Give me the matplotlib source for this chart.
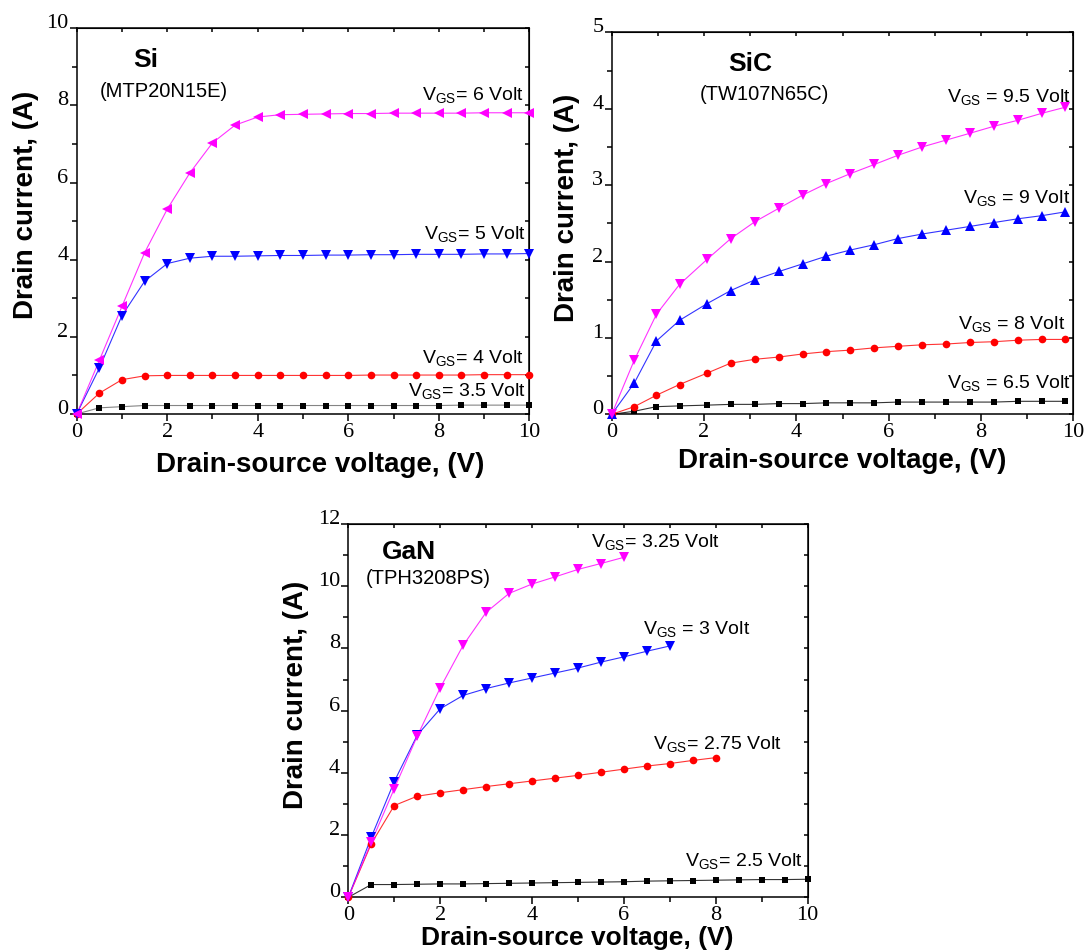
import matplotlib
matplotlib.use("Agg")
import matplotlib.pyplot as plt
from matplotlib.ticker import MultipleLocator

plt.rcParams['font.family'] = ['Liberation Sans', 'DejaVu Sans']

# Si MOSFET (MTP20N15E) output characteristics
si_vds = [0, 0.5, 1.0, 1.5, 2.0, 2.5, 3.0, 3.5, 4.0, 4.5, 5.0,
          5.5, 6.0, 6.5, 7.0, 7.5, 8.0, 8.5, 9.0, 9.5, 10.0]
si_id_6 = [0, 1.39, 2.79, 4.18, 5.31, 6.25, 7.03, 7.49, 7.70, 7.76, 7.77,
           7.78, 7.79, 7.79, 7.80, 7.80, 7.80, 7.80, 7.81, 7.81, 7.81]
si_id_5 = [0, 1.19, 2.55, 3.44, 3.90, 4.04, 4.09, 4.09, 4.10, 4.11, 4.11,
           4.12, 4.12, 4.13, 4.13, 4.14, 4.14, 4.14, 4.15, 4.15, 4.16]
si_id_4 = [0, 0.54, 0.89, 0.99, 1.00, 1.00, 1.00, 1.00, 1.00, 1.00, 1.00,
           1.00, 1.00, 1.01, 1.01, 1.01, 1.01, 1.01, 1.02, 1.02, 1.02]
si_id_35 = [0, 0.16, 0.19, 0.22, 0.22, 0.22, 0.22, 0.22, 0.22, 0.22, 0.22,
            0.22, 0.22, 0.22, 0.22, 0.22, 0.22, 0.23, 0.23, 0.23, 0.23]

# SiC MOSFET (TW107N65C)
sic_vds = [0, 0.49, 0.97, 1.47, 2.07, 2.58, 3.10, 3.63, 4.14, 4.65, 5.17,
           5.69, 6.20, 6.73, 7.25, 7.77, 8.28, 8.81, 9.32, 9.83]
sic_id_95 = [0, 0.71, 1.31, 1.70, 2.03, 2.30, 2.52, 2.70, 2.87, 3.02, 3.15,
             3.27, 3.39, 3.50, 3.59, 3.68, 3.77, 3.85, 3.94, 4.02]
sic_id_9 = [0, 0.41, 0.96, 1.23, 1.45, 1.62, 1.76, 1.87, 1.97, 2.07, 2.15,
            2.22, 2.30, 2.36, 2.41, 2.46, 2.51, 2.56, 2.60, 2.65]
sic_id_8 = [0, 0.10, 0.25, 0.39, 0.54, 0.67, 0.72, 0.75, 0.79, 0.82, 0.84,
            0.87, 0.89, 0.91, 0.92, 0.94, 0.95, 0.97, 0.98, 0.98]
sic_id_65 = [0, 0.04, 0.10, 0.11, 0.12, 0.13, 0.13, 0.14, 0.14, 0.15, 0.15,
             0.15, 0.16, 0.16, 0.16, 0.16, 0.16, 0.17, 0.17, 0.17]

# GaN HEMT (TPH3208PS)
gan_vds_325 = [0, 0.5, 1.0, 1.5, 2.0, 2.5, 3.0, 3.5, 4.0, 4.5, 5.0, 5.5, 6.0]
gan_id_325 = [0, 1.77, 3.49, 5.18, 6.73, 8.10, 9.16, 9.77, 10.07, 10.30,
              10.54, 10.73, 10.93]
gan_vds_3 = [0, 0.5, 1.0, 1.5, 2.0, 2.5, 3.0, 3.5, 4.0, 4.5, 5.0, 5.5,
             6.0, 6.5, 7.0]
gan_id_3 = [0, 1.93, 3.72, 5.21, 6.06, 6.49, 6.71, 6.89, 7.05, 7.21, 7.37,
            7.56, 7.73, 7.91, 8.08]
gan_vds_275 = [0, 0.5, 1.0, 1.5, 2.0, 2.5, 3.0, 3.5, 4.0, 4.5, 5.0, 5.5,
               6.0, 6.5, 7.0, 7.5, 8.0]
gan_id_275 = [0, 1.72, 2.95, 3.25, 3.36, 3.46, 3.56, 3.65, 3.74, 3.83, 3.92,
              4.02, 4.12, 4.22, 4.30, 4.40, 4.49]
gan_vds_25 = [0, 0.5, 1.0, 1.5, 2.0, 2.5, 3.0, 3.5, 4.0, 4.5, 5.0,
              5.5, 6.0, 6.5, 7.0, 7.5, 8.0, 8.5, 9.0, 9.5, 10.0]
gan_id_25 = [0, 0.41, 0.41, 0.42, 0.43, 0.43, 0.44, 0.45, 0.46, 0.47, 0.48,
             0.49, 0.50, 0.52, 0.53, 0.54, 0.55, 0.56, 0.57, 0.57, 0.58]

W, H = 1089, 951
fig = plt.figure(figsize=(W / 100, H / 100), dpi=100)


def px_axes(x0, y0, x1, y1):
    # rectangle given in pixels from the top-left corner
    return fig.add_axes([x0 / W, 1 - y1 / H, (x1 - x0) / W, (y1 - y0) / H])


def curve(ax, x, y, marker, color, ms, lcolor=None):
    ax.plot(x, y, '-', color=lcolor or color, lw=0.8, alpha=0.8, zorder=2)
    ax.plot(x, y, linestyle='none', marker=marker, color=color, ms=ms,
            mew=0, zorder=3, clip_on=False)


def vgs(ax, x, y, s, ha='right'):
    ax.text(x, y, r'$\mathregular{V_{GS}}$' + s, fontsize=14, ha=ha,
            va='baseline')


def frame(ax, ymax, ystep):
    ax.set_xlim(0, 10)
    ax.set_ylim(0, ymax)
    ax.xaxis.set_major_locator(MultipleLocator(2))
    ax.xaxis.set_minor_locator(MultipleLocator(1))
    ax.yaxis.set_major_locator(MultipleLocator(ystep))
    ax.yaxis.set_minor_locator(MultipleLocator(ystep / 2))
    ax.tick_params(which='both', direction='out', width=1.1,
                   top=False, right=False, labelsize=16)
    ax.tick_params(which='major', length=5)
    ax.tick_params(which='minor', length=3.5)
    ax.tick_params(axis='y', pad=1)
    ax.tick_params(axis='x', pad=1.2)
    for lab in ax.get_xticklabels() + ax.get_yticklabels():
        lab.set_family('Liberation Serif')
    for lab in ax.get_yticklabels():
        lab.set_va('baseline')
    for sp in ax.spines.values():
        sp.set_linewidth(1.1)
    # inward ticks on the top and right edges
    top = ax.secondary_xaxis('top')
    top.xaxis.set_major_locator(MultipleLocator(1))
    top.tick_params(direction='in', length=3, width=1.1, labeltop=False)
    right = ax.secondary_yaxis('right')
    right.yaxis.set_major_locator(MultipleLocator(ystep / 2))
    right.tick_params(direction='in', length=3, width=1.1, labelright=False)


def labels(xc, xbase, yx, yc, size=20):
    fig.text(xc / W, 1 - xbase / H, 'Drain-source voltage, (V)',
             fontsize=size, fontweight='bold', ha='center', va='baseline')
    fig.text(yx / W, 1 - yc / H, 'Drain current, (A)', fontsize=20,
             fontweight='bold', rotation=90, rotation_mode='anchor',
             ha='center', va='baseline')


# Si panel
ax1 = px_axes(76.7, 28.3, 529.3, 414)
frame(ax1, 10, 2)
curve(ax1, si_vds, si_id_35, 's', 'black', 5, lcolor='#666666')
curve(ax1, si_vds, si_id_4, 'o', 'red', 5.5)
curve(ax1, si_vds, si_id_5, 'v', 'blue', 6.5)
curve(ax1, si_vds, si_id_6, '<', 'magenta', 6.5)
ax1.text(1.52, 9.0, 'Si', fontsize=19, fontweight='bold', ha='center')
ax1.text(0.50, 8.23, '(MTP20N15E)', fontsize=14.5, ha='left')
vgs(ax1, 9.87, 8.14, '= 6 Volt')
vgs(ax1, 9.92, 4.55, '= 5 Volt')
vgs(ax1, 9.89, 1.33, '= 4 Volt')
vgs(ax1, 9.92, 0.47, '= 3.5 Volt')
labels(320, 472, 33.5, 205)

# SiC panel
ax2 = px_axes(611.7, 32.3, 1073.3, 414.3)
frame(ax2, 5, 1)
curve(ax2, sic_vds, sic_id_65, 's', 'black', 5)
curve(ax2, sic_vds, sic_id_8, 'o', 'red', 5.5)
curve(ax2, sic_vds, sic_id_9, '^', 'blue', 6.5)
curve(ax2, sic_vds, sic_id_95, 'v', 'magenta', 6.5)
ax2.text(3.0, 4.50, 'SiC', fontsize=19, fontweight='bold', ha='center')
ax2.text(1.90, 4.12, '(TW107N65C)', fontsize=14.5, ha='left')
vgs(ax2, 9.95, 4.09, ' = 9.5 Volt')
vgs(ax2, 9.93, 2.77, ' = 9 Volt')
vgs(ax2, 9.83, 1.11, ' = 8 Volt')
vgs(ax2, 9.95, 0.35, ' = 6.5 Volt')
labels(842.5, 468, 574, 207.5)

# GaN panel
ax3 = px_axes(348.3, 524, 807.7, 897.3)
frame(ax3, 12, 2)
curve(ax3, gan_vds_25, gan_id_25, 's', 'black', 5)
curve(ax3, gan_vds_275, gan_id_275, 'o', 'red', 5.5)
curve(ax3, gan_vds_3, gan_id_3, 'v', 'blue', 6.5)
curve(ax3, gan_vds_325, gan_id_325, 'v', 'magenta', 6.5)
ax3.text(1.31, 10.86, 'GaN', fontsize=19, fontweight='bold', ha='center')
ax3.text(0.39, 10.07, '(TPH3208PS)', fontsize=14.5, ha='left')
vgs(ax3, 5.29, 11.27, '= 3.25 Volt', ha='left')
vgs(ax3, 6.42, 8.48, ' = 3 Volt', ha='left')
vgs(ax3, 6.63, 4.78, '= 2.75 Volt', ha='left')
vgs(ax3, 7.32, 1.00, '= 2.5 Volt', ha='left')
labels(577, 945, 303, 695, size=19)

fig.savefig('out.png', dpi=100)
